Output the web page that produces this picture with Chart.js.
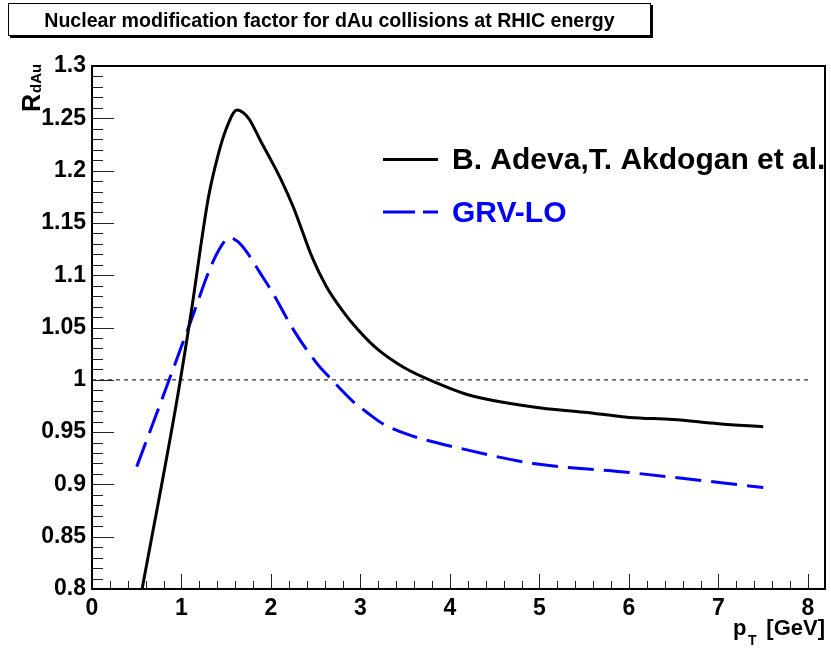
<!DOCTYPE html>
<html>
<head>
<meta charset="utf-8">
<script src="https://cdn.jsdelivr.net/npm/chart.js@4.4.1/dist/chart.umd.min.js"></script>
<style>
  html, body { margin: 0; padding: 0; background: #fff; }
  #wrap { position: relative; width: 831px; height: 649px; }
  #title {
    position: absolute; left: 8px; top: 3px;
    width: 641px; height: 31px;
    border: 1px solid #000;
    box-shadow: 2px 2px 0 #000;
    font: bold 19.6px "Liberation Sans", Arial, sans-serif;
    line-height: 32px; text-align: center; color: #000;
    background: #fff;
  }
  canvas { position: absolute; left: 0; top: 0; }
</style>
</head>
<body>
<div id="wrap">
  <canvas id="chart" width="831" height="649"></canvas>
  <div id="title">Nuclear modification factor for dAu collisions at RHIC energy</div>
</div>
<script>
// B. Adeva, T. Akdogan et al.
const ptAdeva = [0.56, 0.95, 1.10, 1.30, 1.40, 1.50, 1.62, 1.75, 1.88, 2.00, 2.12, 2.25, 2.46, 2.62, 2.80, 2.96, 3.18, 3.48, 3.85, 4.19, 4.93, 5.50, 6.01, 6.49, 7.00, 7.50];
const rAdeva  = [0.800, 0.981, 1.060, 1.174, 1.212, 1.240, 1.258, 1.250, 1.229, 1.210, 1.190, 1.165, 1.117, 1.089, 1.066, 1.049, 1.030, 1.012, 0.997, 0.986, 0.974, 0.969, 0.964, 0.962, 0.958, 0.955];

// GRV-LO
const ptGrv = [0.50, 0.78, 1.00, 1.10, 1.20, 1.28, 1.41, 1.54, 1.63, 1.73, 1.88, 2.02, 2.25, 2.51, 2.68, 2.92, 3.07, 3.25, 3.52, 4.19, 4.93, 6.04, 7.50];
const rGrv  = [0.917, 0.981, 1.032, 1.055, 1.079, 1.098, 1.123, 1.136, 1.132, 1.122, 1.102, 1.083, 1.048, 1.016, 1.000, 0.979, 0.969, 0.958, 0.948, 0.933, 0.920, 0.911, 0.897];

// reference line R = 1
const refPt = [0, 8];
const refR  = [1, 1];

const xTickValues = [0, 1, 2, 3, 4, 5, 6, 7, 8];
const yTickValues = [0.8, 0.85, 0.9, 0.95, 1, 1.05, 1.1, 1.15, 1.2, 1.25, 1.3];

const FONT = '"Liberation Sans", Arial, sans-serif';

function pts(xs, ys) {
  return xs.map((x, i) => ({ x: x, y: ys[i] }));
}

// ROOT-like frame, inner ticks, axis titles and legend
const rootStyle = {
  id: 'rootStyle',
  afterDatasetsDraw(chart) {
    const ctx = chart.ctx;
    const a = chart.chartArea;
    const xs = chart.scales.x, ys = chart.scales.y;
    ctx.save();

    // ticks
    ctx.strokeStyle = '#222';
    ctx.lineWidth = 1;
    ctx.beginPath();
    for (let i = 0; i <= 50; i++) {
      const v = 0.8 + i * 0.01;
      const py = Math.round(ys.getPixelForValue(v)) + 0.5;
      const len = (i % 5 === 0) ? 22 : 11;
      ctx.moveTo(a.left, py);
      ctx.lineTo(a.left + len, py);
    }
    for (let i = 0; i <= 40; i++) {
      const v = i * 0.2;
      const px = Math.round(xs.getPixelForValue(v)) + 0.5;
      const len = (i % 5 === 0) ? 15 : 8;
      ctx.moveTo(px, a.bottom);
      ctx.lineTo(px, a.bottom - len);
    }
    ctx.stroke();

    // frame
    ctx.strokeStyle = '#000';
    ctx.lineWidth = 2;
    ctx.strokeRect(a.left, a.top, a.right - a.left, a.bottom - a.top);

    // y title R_dAu
    ctx.fillStyle = '#000';
    ctx.save();
    ctx.translate(40, 112);
    ctx.rotate(-Math.PI / 2);
    ctx.textBaseline = 'alphabetic';
    ctx.textAlign = 'left';
    ctx.font = 'bold 25px ' + FONT;
    ctx.fillText('R', 0, 0);
    const rw = ctx.measureText('R').width;
    ctx.font = 'bold 15px ' + FONT;
    ctx.fillText('dAu', rw + 1, 1);
    ctx.restore();

    // x title p_T [GeV]
    ctx.textBaseline = 'alphabetic';
    ctx.textAlign = 'right';
    ctx.font = 'bold 22px ' + FONT;
    ctx.fillText('[GeV]', 825, 635);
    ctx.textAlign = 'left';
    ctx.fillText('p', 733, 635);
    ctx.font = 'bold 14px ' + FONT;
    ctx.fillText('T', 748, 645);

    // legend
    ctx.lineCap = 'butt';
    ctx.lineWidth = 3;
    ctx.strokeStyle = '#000';
    ctx.beginPath();
    ctx.moveTo(383, 159.5);
    ctx.lineTo(438, 159.5);
    ctx.stroke();
    ctx.strokeStyle = '#0000ff';
    ctx.setLineDash([32, 8]);
    ctx.beginPath();
    ctx.moveTo(383, 212);
    ctx.lineTo(438, 212);
    ctx.stroke();
    ctx.setLineDash([]);
    ctx.font = 'bold 30px ' + FONT;
    ctx.fillStyle = '#000';
    ctx.fillText('B. Adeva,T. Akdogan et al.', 452, 169);
    ctx.fillStyle = '#0000ff';
    ctx.fillText('GRV-LO', 452, 222);

    ctx.restore();
  }
};

new Chart(document.getElementById('chart'), {
  type: 'scatter',
  data: {
    datasets: [
      {
        label: 'R = 1',
        data: pts(refPt, refR),
        showLine: true,
        borderColor: '#555',
        borderWidth: 1.5,
        borderDash: [4, 4],
        pointRadius: 0,
        order: 3
      },
      {
        label: 'B. Adeva,T. Akdogan et al.',
        data: pts(ptAdeva, rAdeva),
        showLine: true,
        borderColor: '#000',
        borderWidth: 3,
        pointRadius: 0,
        cubicInterpolationMode: 'monotone',
        order: 1
      },
      {
        label: 'GRV-LO',
        data: pts(ptGrv, rGrv),
        showLine: true,
        borderColor: '#0000ff',
        borderWidth: 3,
        borderDash: [26, 10],
        pointRadius: 0,
        cubicInterpolationMode: 'monotone',
        order: 2
      }
    ]
  },
  options: {
    responsive: false,
    animation: false,
    events: [],
    layout: { padding: { left: 0, right: 6, top: 66, bottom: 0 } },
    plugins: {
      legend: { display: false },
      tooltip: { enabled: false },
      title: { display: false }
    },
    scales: {
      x: {
        type: 'linear',
        min: 0,
        max: 8.19,
        afterFit: s => { s.height = 60; },
        afterBuildTicks: s => { s.ticks = xTickValues.map(v => ({ value: v })); },
        grid: { display: false, drawTicks: false },
        border: { display: false },
        ticks: {
          padding: 6,
          color: '#000',
          font: { family: FONT, size: 23, weight: 'bold' },
          maxRotation: 0,
          callback: v => String(v)
        }
      },
      y: {
        type: 'linear',
        min: 0.8,
        max: 1.3,
        afterFit: s => { s.width = 92; },
        afterBuildTicks: s => { s.ticks = yTickValues.map(v => ({ value: v })); },
        grid: { display: false, drawTicks: false },
        border: { display: false },
        ticks: {
          padding: 6,
          color: '#000',
          font: { family: FONT, size: 23, weight: 'bold' },
          callback: v => String(+v.toFixed(2))
        }
      }
    }
  },
  plugins: [rootStyle]
});
</script>
</body>
</html>
